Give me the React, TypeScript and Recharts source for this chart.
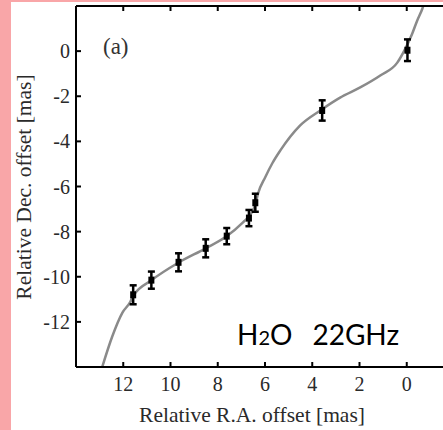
import React from 'react';
import {
    ComposedChart,
    Line,
    Scatter,
    ErrorBar,
    XAxis,
    YAxis
} from 'recharts';

// maser spot positions (R.A., Dec.) with Dec. errors, in mas
const spotRA = [11.58, 10.81, 9.66, 8.51, 7.62, 6.68, 6.41, 3.58, -0.03];
const spotDec = [-10.8, -10.15, -9.36, -8.74, -8.2, -7.4, -6.72, -2.63, 0.04];
const spotErr = [0.42, 0.38, 0.4, 0.4, 0.36, 0.36, 0.4, 0.45, 0.48];

// fitted curve
const curveRA = [12.89, 12.47, 12.04, 11.7, 11.58, 10.81, 9.67, 8.53, 7.64, 6.92, 6.62, 6.41, 6.29, 5.99, 5.69, 5.35, 4.51, 3.66, 2.82, 1.97, 1.12, 0.4, 0.06, -0.23, -0.44, -0.66, -0.7];
const curveDec = [-14.0, -12.66, -11.6, -11.11, -10.85, -10.16, -9.38, -8.75, -8.22, -7.58, -7.25, -6.8, -6.3, -5.59, -4.97, -4.4, -3.29, -2.63, -2.06, -1.61, -1.08, -0.51, 0.11, 0.77, 1.35, 1.88, 2.0];

const xTicks = [12, 10, 8, 6, 4, 2, 0];
const yTicks = [0, -2, -4, -6, -8, -10, -12];

const spots = spotRA.map((x, i) => ({ x, y: spotDec[i], err: spotErr[i] }));
const curve = curveRA.map((x, i) => ({ x, y: curveDec[i] }));

const serif = '"Liberation Serif", "Times New Roman", serif';
const TICK_LEN = 5;
const X_MARGIN = 10;
const Y_MARGIN = 6;
const TOP_MARGIN = 4;

// ticks point into the plot, so draw the tick line together with the label
const BottomTick = (props: any) => {
    const { x, y, payload } = props;
    const axisY = y - X_MARGIN;
    return (
        <g>
            <line x1={x} x2={x} y1={axisY} y2={axisY - TICK_LEN} stroke="#000" strokeWidth={2} />
            <text x={x} y={y} dy="0.71em" textAnchor="middle" fill="#2a2a2a" fontSize={20} fontFamily={serif}>
                {payload.value}
            </text>
        </g>
    );
};

const TopTick = (props: any) => {
    const { x, y } = props;
    const axisY = y + TOP_MARGIN;
    return <line x1={x} x2={x} y1={axisY} y2={axisY + TICK_LEN} stroke="#000" strokeWidth={2} />;
};

const LeftTick = (props: any) => {
    const { x, y, payload } = props;
    const axisX = x + Y_MARGIN;
    return (
        <g>
            <line x1={axisX} x2={axisX + TICK_LEN} y1={y} y2={y} stroke="#000" strokeWidth={2} />
            <text x={x} y={y} dy="0.355em" textAnchor="end" fill="#2a2a2a" fontSize={20} fontFamily={serif}>
                {payload.value}
            </text>
        </g>
    );
};

const SpotShape = (props: any) => {
    const { cx, cy } = props;
    return <rect x={cx - 3} y={cy - 3.5} width={6} height={7} fill="#000" />;
};

export default function App() {
    return (
        <div style={{ position: 'absolute', left: 0, top: 0, width: 443, height: 430, overflow: 'hidden', background: '#F9A6A8' }}>
            <div style={{ position: 'absolute', left: 11, top: 2, width: 440, height: 430, background: '#fff' }} />
            <div style={{ position: 'absolute', left: 0, top: 0 }}>
                <ComposedChart
                    width={470}
                    height={430}
                    margin={{ top: 0, right: 16, bottom: 33, left: 0 }}
                >
                    <XAxis
                        dataKey="x"
                        type="number"
                        domain={[-2, 14]}
                        reversed
                        ticks={xTicks}
                        allowDataOverflow
                        height={30}
                        tickSize={0}
                        tickMargin={X_MARGIN}
                        tickLine={false}
                        axisLine={{ stroke: '#000', strokeWidth: 2 }}
                        tick={<BottomTick />}
                    />
                    <XAxis
                        xAxisId="top"
                        orientation="top"
                        dataKey="x"
                        type="number"
                        domain={[-2, 14]}
                        reversed
                        ticks={xTicks}
                        allowDataOverflow
                        height={6}
                        tickSize={0}
                        tickMargin={TOP_MARGIN}
                        tickLine={false}
                        axisLine={{ stroke: '#000', strokeWidth: 2 }}
                        tick={<TopTick />}
                    />
                    <YAxis
                        dataKey="y"
                        type="number"
                        domain={[-14, 2]}
                        ticks={yTicks}
                        allowDataOverflow
                        width={76}
                        tickSize={0}
                        tickMargin={Y_MARGIN}
                        tickLine={false}
                        axisLine={{ stroke: '#000', strokeWidth: 2 }}
                        tick={<LeftTick />}
                    />
                    <Line
                        data={curve}
                        dataKey="y"
                        type="monotone"
                        stroke="#8a8a8a"
                        strokeWidth={2.5}
                        dot={false}
                        activeDot={false}
                        isAnimationActive={false}
                    />
                    <Scatter data={spots} dataKey="y" shape={<SpotShape />} isAnimationActive={false}>
                        <ErrorBar dataKey="err" direction="y" width={3.5} stroke="#000" strokeWidth={2.5} />
                    </Scatter>
                </ComposedChart>
            </div>
            <svg width={443} height={430} style={{ position: 'absolute', left: 0, top: 0, pointerEvents: 'none' }}>
                <text x={103} y={54} fontFamily={serif} fontSize={23} fill="#333">(a)</text>
                <text x={237} y={345} fontFamily='Lato, "Open Sans", sans-serif' fontSize={28} fill="#000">
                    H<tspan fontSize={20}>2</tspan>O<tspan dx={20}>22GHz</tspan>
                </text>
                <text x={252} y={422} textAnchor="middle" fontFamily={serif} fontSize={21.5} fill="#2a2a2a">
                    Relative R.A. offset [mas]
                </text>
                <text
                    x={0}
                    y={0}
                    transform="translate(31, 187) rotate(-90)"
                    textAnchor="middle"
                    fontFamily={serif}
                    fontSize={21.5}
                    fill="#2a2a2a"
                >
                    Relative Dec. offset [mas]
                </text>
            </svg>
        </div>
    );
}
